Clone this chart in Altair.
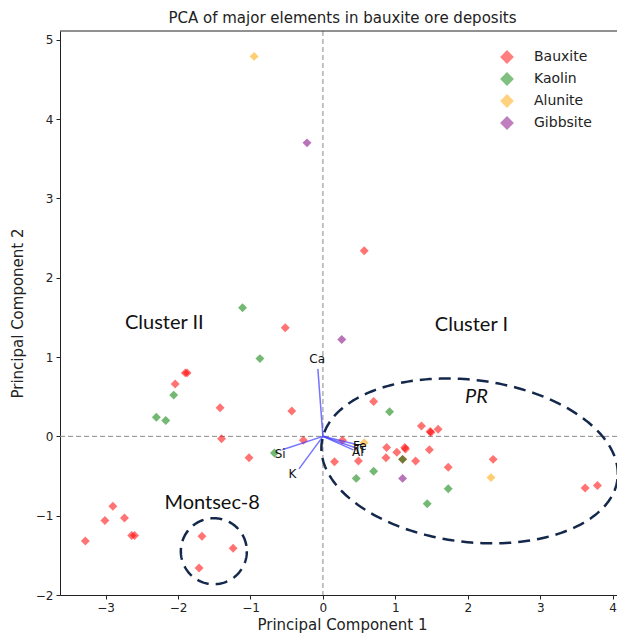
import altair as alt
import pandas as pd
import numpy as np

# ---------------- data ----------------
groups = ["Bauxite", "Kaolin", "Alunite", "Gibbsite"]
group_colors = ["#ff0000", "#008000", "#ffa500", "#800080"]

bauxite_x = [0.57, -0.52, -1.90, -1.875, -2.04, -1.42, -1.40, -1.02, -0.43, -0.27,
             0.16, 0.27, 0.70, 0.49, 0.88, 0.87, 1.02, 1.13, 1.14, 1.10,
             1.28, 1.36, 1.48, 1.49, 1.59, 1.47, 1.73, 2.35, 3.62, 3.79,
             -3.28, -3.01, -2.90, -2.74, -2.64, -2.60, -1.67, -1.24, -1.71]
bauxite_y = [2.34, 1.37, 0.80, 0.80, 0.66, 0.36, -0.03, -0.27, 0.32, -0.05,
             -0.32, -0.05, 0.44, -0.31, -0.14, -0.27, -0.20, -0.14, -0.16, -0.29,
             -0.31, 0.13, 0.06, 0.05, 0.09, -0.17, -0.39, -0.29, -0.65, -0.62,
             -1.32, -1.06, -0.88, -1.03, -1.25, -1.25, -1.26, -1.41, -1.66]

kaolin_x = [-1.11, -0.87, -2.06, -2.30, -2.17, -0.67, 0.92, 0.46, 0.70, 1.10, 1.73, 1.44]
kaolin_y = [1.62, 0.98, 0.52, 0.24, 0.20, -0.21, 0.31, -0.53, -0.44, -0.29, -0.66, -0.85]

alunite_x = [-0.95, 0.57, 2.32]
alunite_y = [4.79, -0.08, -0.52]

gibbsite_x = [-0.22, 0.26, 1.10]
gibbsite_y = [3.70, 1.22, -0.53]

# loading vectors (biplot arrows) and their labels
load_names = ["Ca", "Si", "K", "Fe", "Ti", "Al"]
load_x = [-0.07, -0.56, -0.33, 0.45, 0.44, 0.42]
load_y = [0.85, -0.17, -0.41, -0.10, -0.14, -0.17]
load_label_x = [-0.08, -0.59, -0.42, 0.51, 0.50, 0.48]
load_label_y = [0.97, -0.22, -0.47, -0.12, -0.16, -0.20]

# text annotations
note_text = ["Cluster II", "Cluster I", "Montsec-8"]
note_x = [-2.19, 2.05, -1.53]
note_y = [1.43, 1.41, -0.84]
pr_text = ["PR"]
pr_x = [2.12]
pr_y = [0.49]

# dashed outline shapes: centre (data), semi-axes (px), tilt (deg)
shape_names = ["PR", "Montsec-8"]
shape_cx = [2.025, -1.506]
shape_cy = [-0.31, -1.448]
shape_a_px = [149, 33]
shape_b_px = [81, 33]
shape_tilt = [7, 0]

# ---------------- layout ----------------
W, H = 557, 564
XDOM = [-3.63, 4.06]
YDOM = [-2.0, 5.11]
px_x = W / (XDOM[1] - XDOM[0])
px_y = H / (YDOM[1] - YDOM[0])

pts = pd.concat([
    pd.DataFrame({"x": bauxite_x, "y": bauxite_y, "group": "Bauxite"}),
    pd.DataFrame({"x": kaolin_x, "y": kaolin_y, "group": "Kaolin"}),
    pd.DataFrame({"x": alunite_x, "y": alunite_y, "group": "Alunite"}),
    pd.DataFrame({"x": gibbsite_x, "y": gibbsite_y, "group": "Gibbsite"}),
], ignore_index=True)
pts["order"] = pts["group"].map({g: i for i, g in enumerate(groups)})

rows = []
t = np.linspace(0, 2 * np.pi, 241)
for name, cx, cy, a, b, th in zip(shape_names, shape_cx, shape_cy, shape_a_px, shape_b_px, shape_tilt):
    r = np.deg2rad(th)
    px = a * np.cos(t) * np.cos(r) - b * np.sin(t) * np.sin(r)
    py = a * np.cos(t) * np.sin(r) + b * np.sin(t) * np.cos(r)
    for i in range(len(t)):
        rows.append({"shape": name, "i": i, "x": cx + px[i] / px_x, "y": cy - py[i] / px_y})
shapes = pd.DataFrame(rows)

loads = pd.DataFrame({"name": load_names, "x0": 0.0, "y0": 0.0, "x": load_x, "y": load_y,
                      "lx": load_label_x, "ly": load_label_y})
notes = pd.DataFrame({"text": note_text, "x": note_x, "y": note_y})
pr = pd.DataFrame({"text": pr_text, "x": pr_x, "y": pr_y})

xs = alt.Scale(domain=XDOM, nice=False, zero=False)
ys = alt.Scale(domain=YDOM, nice=False, zero=False)
x_axis = alt.Axis(values=[-3, -2, -1, 0, 1, 2, 3, 4], titleX=282, titleY=22)
y_axis = alt.Axis(values=[-2, -1, 0, 1, 2, 3, 4, 5], titleX=-35, titleY=H / 2)
X_TITLE = "Principal Component 1"
Y_TITLE = "Principal Component 2"


def X(f):
    return alt.X(f, type="quantitative", scale=xs, axis=x_axis, title=X_TITLE)


def Y(f):
    return alt.Y(f, type="quantitative", scale=ys, axis=y_axis, title=Y_TITLE)


zero_v = alt.Chart(pd.DataFrame({"x": [0.0]})).mark_rule(
    color="#8a8a8a", strokeDash=[5, 3], strokeWidth=1).encode(x=X("x"))
zero_h = alt.Chart(pd.DataFrame({"y": [0.0]})).mark_rule(
    color="#8a8a8a", strokeDash=[5, 3], strokeWidth=1).encode(y=Y("y"))

points = alt.Chart(pts).mark_point(shape="diamond", filled=True, size=80, opacity=0.55,
                                   strokeWidth=0).encode(
    x=X("x"),
    y=Y("y"),
    color=alt.Color("group:N", scale=alt.Scale(domain=groups, range=group_colors),
                    legend=alt.Legend(title=None, orient="none", legendX=440, legendY=19,
                                      symbolType="diamond", symbolSize=190, symbolOpacity=0.5,
                                      symbolStrokeWidth=0, labelFont="DejaVu Sans",
                                      labelFontSize=14, labelColor="#222", labelOffset=20,
                                      rowPadding=8, padding=0)),
    order=alt.Order("order:Q"),
)

arrows = alt.Chart(loads).mark_rule(color="#3a3aff", opacity=0.7, strokeWidth=1.5).encode(
    x=X("x0"), y=Y("y0"), x2="x", y2="y")
arrow_text = alt.Chart(loads).mark_text(font="DejaVu Sans", fontSize=12, color="#111").encode(
    x=X("lx"), y=Y("ly"), text="name:N")

outlines = alt.Chart(shapes).mark_line(color="#14284b", strokeWidth=2.5, strokeDash=[12, 7]).encode(
    x=X("x"), y=Y("y"), detail="shape:N", order="i:Q")

note_marks = alt.Chart(notes).mark_text(font="Lato", fontSize=20, color="#111").encode(
    x=X("x"), y=Y("y"), text="text:N")
pr_mark = alt.Chart(pr).mark_text(font="Lato", fontSize=20, fontStyle="italic", color="#111").encode(
    x=X("x"), y=Y("y"), text="text:N")

top_spine = alt.Chart(pd.DataFrame({"a": [0]})).mark_rule(color="#222", strokeWidth=1).encode(
    x=alt.value(0), x2=alt.value(W), y=alt.value(0))

chart = alt.layer(
    zero_v, zero_h, points, outlines, arrows, arrow_text, note_marks, pr_mark, top_spine
).properties(
    width=W, height=H,
    title=alt.Title("PCA of major elements in bauxite ore deposits", font="DejaVu Sans",
                    fontSize=15, fontWeight="normal", color="#222", offset=5, dx=4),
    autosize=alt.AutoSizeParams(type="none"),
    padding={"left": 52, "top": 23, "right": 0, "bottom": 38},
).configure_view(stroke=None).configure_axis(
    grid=False, domainColor="#222", tickColor="#222", labelColor="#222", titleColor="#222",
    labelFont="DejaVu Sans", labelFontSize=12, titleFont="DejaVu Sans", titleFontSize=15,
    titleFontWeight="normal", tickSize=4, labelPadding=3,
)

chart.save("out.html", embed_options={"renderer": "svg", "actions": False})
